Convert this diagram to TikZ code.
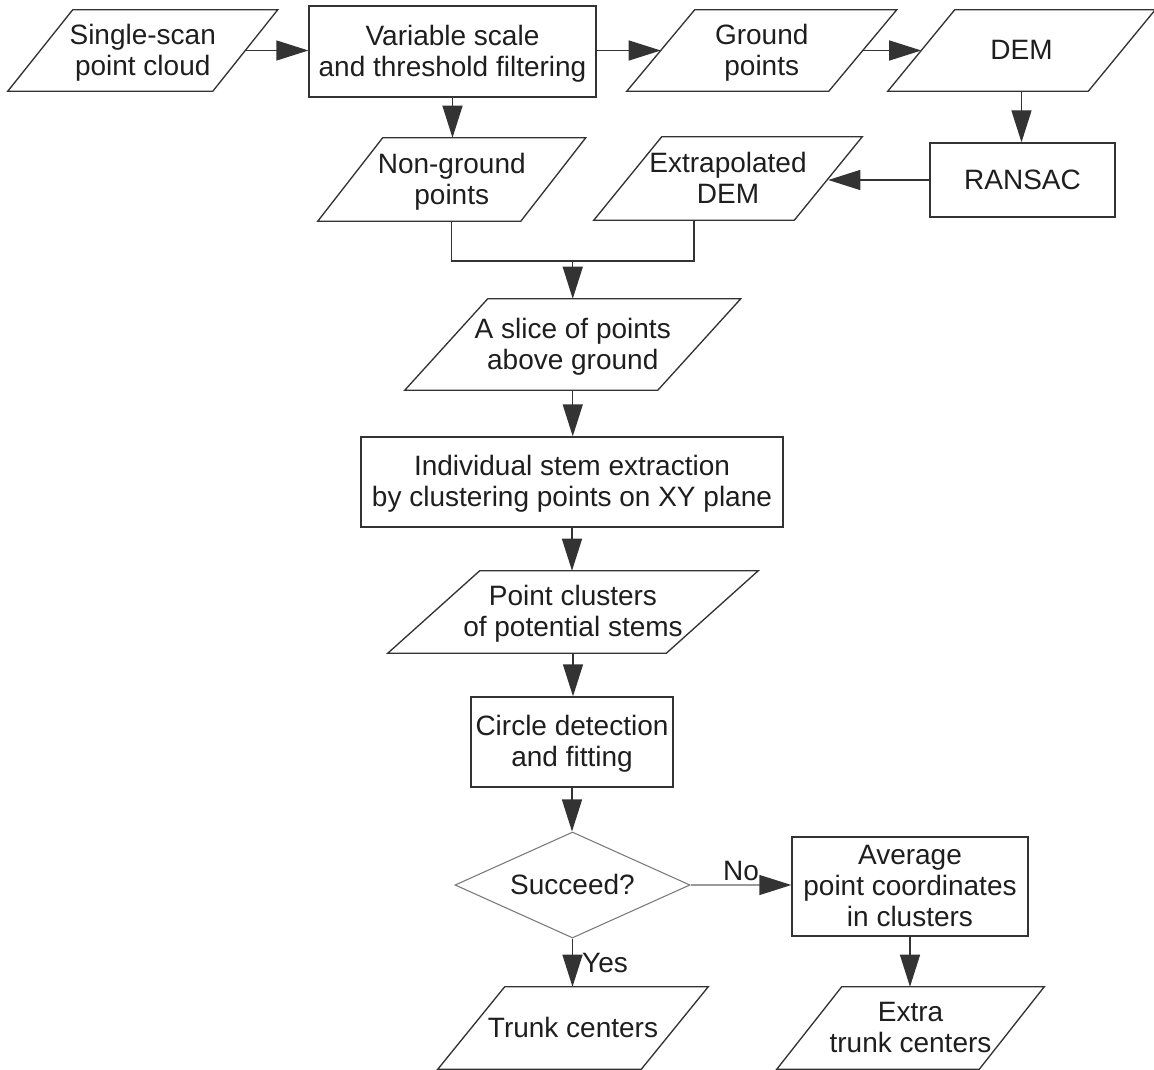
\documentclass[tikz,border=0pt]{standalone}
\usepackage{fontspec}
\setmainfont{Liberation Sans}
\usetikzlibrary{arrows.meta,calc,shapes.geometric}
\definecolor{ln}{HTML}{333333}
\definecolor{tx}{HTML}{1E1E1E}
\definecolor{lg}{HTML}{7A7A7A}
\definecolor{lg2}{HTML}{9A9A9A}
\newcommand\paraframe[2]{\draw[frame] ($(#1.north west)+(#2,0)$) -- ($(#1.north east)+(#2,0)$) -- ($(#1.south east)-(#2,0)$) -- ($(#1.south west)-(#2,0)$) -- cycle;}
\newcommand\mystrut{\rule[-4.5pt]{0pt}{23pt}}
\begin{document}
\begin{tikzpicture}[x=0.75pt,y=-0.75pt,
  font=\fontsize{21}{23.25}\selectfont, text=tx,
  sz/.style 2 args={minimum width={#1*0.75pt},minimum height={#2*0.75pt}},
  base/.style={inner sep=0pt, align=center, execute at end node=\mystrut},
  rbox/.style={base, draw=ln, line width=1pt},
  frame/.style={draw=ln, line width=1pt, line join=miter},
  arr/.style={draw=ln, line width=1pt, -{Triangle[length=24pt,width=15pt,color=ln]}},
  lab/.style={inner sep=0pt}]
\useasboundingbox[fill=white] (0,0) rectangle (1154,1070);

% parallelogram bodies
\node[base, sz={204.5}{81}] (scan) at (142.75,50.5) {\mystrut Single-scan\\point cloud};
\node[base, sz={201.5}{81}] (ground) at (761.75,50.5) {\mystrut Ground\\points};
\node[base, sz={200}{81}] (dem) at (1021.5,50.5) {\mystrut DEM};
\node[base, sz={202.5}{83}] (nonground) at (451.75,179.5) {\mystrut Non-ground\\points};
\node[base, sz={200}{83}] (extrap) at (728,178.5) {\mystrut Extrapolated\\DEM};
\node[base, sz={252.5}{91}] (slice) at (572.75,344.5) {\mystrut A slice of points\\above ground};
\node[base, sz={278}{82}] (clusters) at (573,612) {\mystrut Point clusters\\of potential stems};
\node[base, sz={203}{82}] (trunk) at (573,1028) {\mystrut Trunk centers};
\node[base, sz={202}{82}] (extra) at (910.5,1028) {\mystrut Extra\\trunk centers};

\paraframe{scan}{32.5}
\paraframe{ground}{34}
\paraframe{dem}{33.5}
\paraframe{nonground}{32.5}
\paraframe{extrap}{34}
\paraframe{slice}{41.5}
\paraframe{clusters}{46}
\paraframe{trunk}{33.5}
\paraframe{extra}{32.5}

% rectangles
\node[rbox, sz={287}{91}] (filter) at (452.5,51.5) {\mystrut Variable scale\\and threshold filtering};
\node[rbox, sz={185}{74}] (ransac) at (1022.5,180) {\mystrut RANSAC};
\node[rbox, sz={422}{90}] (stem) at (572,482) {\mystrut Individual stem extraction\\by clustering points on XY plane};
\node[rbox, sz={202}{90}] (circle) at (572,742) {\mystrut Circle detection\\and fitting};
\node[rbox, sz={236}{99}] (avg) at (910,886.5) {\mystrut Average\\point coordinates\\in clusters};

% decision
\node[base, diamond, shape aspect=2.2, draw=lg, line width=0.8pt, sz={235}{106}] (dia) at (572.5,885) {\mystrut Succeed?};

% connectors
\draw[arr] (scan.east) -- (scan.east -| filter.west);
\draw[arr] (filter.east) -- (filter.east |- ground.west) -- (ground.west);
\draw[arr] (ground.east) -- (dem.west);
\draw[arr] (dem.south) -- (dem.south |- ransac.north);
\draw[arr] (filter.south) -- (filter.south |- nonground.north);
\draw[arr] (ransac.west) -- (ransac.west -| extrap.east);
\coordinate (join) at (572.75,261);
\coordinate (joinr) at (694,261);
\draw[frame] (nonground.south) -- (nonground.south |- join) -- (joinr) -- (joinr |- extrap.south);
\draw[arr] (join) -- (slice.north);
\draw[arr] (slice.south) -- (slice.south |- stem.north);
\draw[arr] (stem.south) -- (stem.south |- clusters.north);
\draw[arr] (clusters.south) -- (clusters.south |- circle.north);
\draw[arr] (circle.south) -- (circle.south |- dia.north);
\draw[arr, draw=lg2] (dia.east) -- (dia.east -| avg.west);
\draw[arr] (dia.south) -- (dia.south |- trunk.north);
\draw[arr] (avg.south) -- (avg.south |- extra.north);

\node[lab] (nolab) at (741,871) {No};
\node[lab] (yeslab) at (605,963) {Yes};
\end{tikzpicture}
\end{document}
